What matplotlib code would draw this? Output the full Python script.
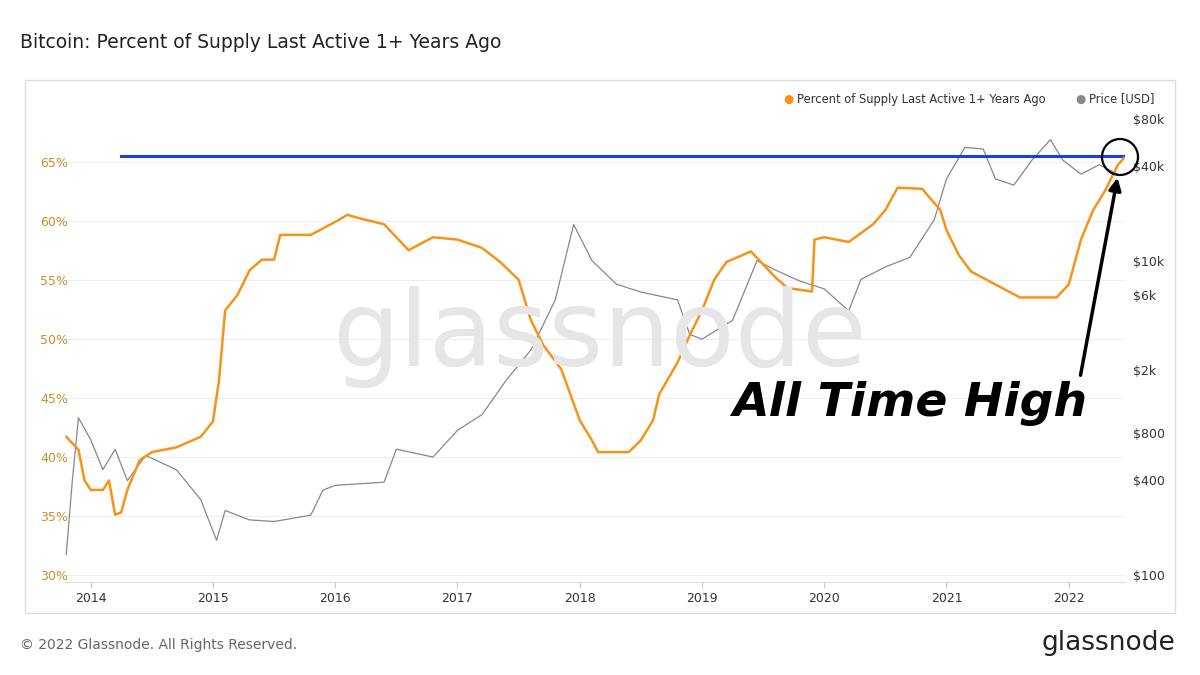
import matplotlib
matplotlib.use("Agg")
import matplotlib.pyplot as plt
from matplotlib.patches import Rectangle, Ellipse
import numpy as np

pct_t = [2013.8,2013.9,2013.95,2014.0,2014.1,2014.15,2014.2,2014.25,2014.3,2014.4,2014.5,2014.7,2014.9,2015.0,2015.05,2015.1,2015.2,2015.3,2015.4,2015.5,2015.55,2015.8,2016.0,2016.1,2016.2,2016.4,2016.6,2016.8,2017.0,2017.2,2017.35,2017.5,2017.6,2017.7,2017.85,2018.0,2018.1,2018.15,2018.4,2018.5,2018.6,2018.65,2018.8,2018.9,2019.0,2019.1,2019.2,2019.4,2019.5,2019.6,2019.7,2019.9,2019.92,2020.0,2020.2,2020.4,2020.5,2020.6,2020.8,2020.95,2021.0,2021.1,2021.2,2021.4,2021.6,2021.9,2022.0,2022.1,2022.2,2022.3,2022.4,2022.45]
pct_v = [41.7,40.6,38.0,37.2,37.2,38.0,35.1,35.3,37.2,39.7,40.4,40.8,41.7,43.0,46.5,52.4,53.7,55.8,56.7,56.7,58.8,58.8,59.9,60.5,60.2,59.7,57.5,58.6,58.4,57.7,56.5,55.0,51.6,49.5,47.4,43.1,41.4,40.4,40.4,41.4,43.1,45.3,48.0,50.3,52.4,55.0,56.5,57.4,56.3,55.2,54.3,54.0,58.4,58.6,58.2,59.7,60.9,62.8,62.7,60.9,59.2,57.1,55.7,54.6,53.5,53.5,54.6,58.4,60.9,62.6,64.7,65.3]

price_t = [2013.8,2013.85,2013.9,2014.0,2014.1,2014.2,2014.3,2014.45,2014.7,2014.9,2015.03,2015.1,2015.3,2015.5,2015.8,2015.9,2016.0,2016.4,2016.5,2016.8,2017.0,2017.2,2017.4,2017.6,2017.8,2017.95,2018.1,2018.3,2018.5,2018.8,2018.9,2019.0,2019.25,2019.45,2019.6,2019.8,2020.0,2020.2,2020.3,2020.5,2020.7,2020.9,2021.0,2021.15,2021.3,2021.4,2021.55,2021.7,2021.85,2021.95,2022.1,2022.25,2022.4]
price_log = [2.13,2.6,3.0,2.86,2.67,2.8,2.6,2.76,2.67,2.48,2.22,2.41,2.35,2.34,2.38,2.54,2.57,2.59,2.8,2.75,2.92,3.02,3.24,3.43,3.75,4.23,4.0,3.85,3.8,3.75,3.53,3.5,3.62,4.0,3.94,3.87,3.82,3.68,3.88,3.96,4.02,4.26,4.52,4.72,4.71,4.52,4.48,4.64,4.77,4.64,4.55,4.61,4.55]

x_ticks = [2014,2015,2016,2017,2018,2019,2020,2021,2022]
pct_ticks = [30,35,40,45,50,55,60,65]
price_ticks = [100,400,800,2000,6000,10000,40000,80000]
price_labels = ["$100","$400","$800","$2k","$6k","$10k","$40k","$80k"]
ath_level = 65.5

orange = "#f7931a"
fig = plt.figure(figsize=(12,6.75), dpi=100)
fig.patches.append(Rectangle((25/1200, 1-613/675), 1150/1200, 533/675, transform=fig.transFigure,
                             fill=False, edgecolor="#dddddd", lw=1))
ax = fig.add_axes([65/1200, 1-582/675, 1060/1200, 477/675])
ax.set_xlim(2013.79, 2022.46)
ax.set_ylim(29.4, 69.8)
for s in ax.spines.values(): s.set_visible(False)
ax.spines["bottom"].set_visible(True); ax.spines["bottom"].set_color("#dddddd")
ax.set_yticks(pct_ticks)
ax.set_yticklabels([f"{v}%" for v in pct_ticks], color="#c8902c", fontsize=9)
ax.tick_params(axis="y", length=0, pad=-2)
ax.tick_params(axis="x", length=4, color="#cccccc", labelsize=9, labelcolor="#333333")
ax.set_xticks(x_ticks); ax.set_xticklabels([str(v) for v in x_ticks])
for t in ax.get_yticklabels(): t.set_horizontalalignment("right")
ax.grid(axis="y", color="#eeeeee", lw=0.8)

ax2 = ax.twinx()
ax2.set_yscale("log")
ax2.set_ylim(10**1.955, 10**4.99)
for s in ax2.spines.values(): s.set_visible(False)
ax2.set_yticks(price_ticks); ax2.set_yticklabels(price_labels, fontsize=9, color="#333333")
ax2.minorticks_off()
ax2.tick_params(axis="y", length=0, pad=6)
ax2.plot(price_t, 10**np.array(price_log), color="#888888", lw=0.9, zorder=2)

ax3 = ax.twinx(); ax3.set_ylim(ax.get_ylim()); ax3.axis("off")
ax3.plot(pct_t, pct_v, color=orange, lw=1.8, zorder=3)
ax3.plot([2014.25, 2022.45], [ath_level, ath_level], color="#1a3ee0", lw=2.2)

fig.text(0.5, 0.5, "glassnode", fontsize=76, color="#e6e6e6", ha="center", va="center", zorder=0)
fig.text(20/1200, 1-43/675, "Bitcoin: Percent of Supply Last Active 1+ Years Ago", fontsize=13.5, color="#222222", va="center")
fig.text(20/1200, 1-645/675, "© 2022 Glassnode. All Rights Reserved.", fontsize=10, color="#666666", va="center")
fig.text(1175/1200, 1-643/675, "glassnode", fontsize=19, color="#222222", va="center", ha="right")
# legend
fig.text(788/1200, 1-99/675, "●", color=orange, fontsize=8.5, va="center", ha="center")
fig.text(797/1200, 1-99/675, "Percent of Supply Last Active 1+ Years Ago", fontsize=8.3, color="#333333", va="center")
fig.text(1080/1200, 1-99/675, "●", color="#888888", fontsize=8.5, va="center", ha="center")
fig.text(1089/1200, 1-99/675, "Price [USD]", fontsize=8.3, color="#333333", va="center")
# annotation
fig.text(910/1200, 1-403/675, "All Time High", fontsize=34, fontweight="bold", fontstyle="italic", ha="center", va="center", color="black")
fig.patches.append(Ellipse((1120/1200, 1-157/675), 36/1200, 36/675, transform=fig.transFigure, fill=False, edgecolor="black", lw=1.6))
ax.annotate("", xy=(1118/1200, 1-175/675), xytext=(1080/1200, 1-378/675), xycoords="figure fraction",
            arrowprops=dict(arrowstyle="-|>", color="black", lw=2.5, mutation_scale=18))
fig.savefig("out.png", dpi=100)
